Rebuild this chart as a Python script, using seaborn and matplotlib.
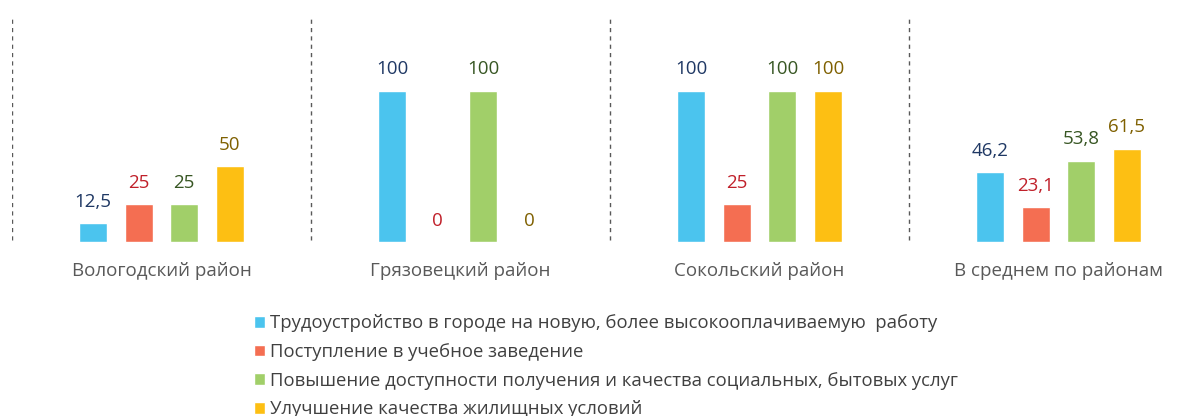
import pandas as pd
import matplotlib.pyplot as plt
import seaborn as sns

# Данные диаграммы
districts = ['Вологодский район', 'Грязовецкий район', 'Сокольский район', 'В среднем по районам']
reasons = [
    'Трудоустройство в городе на новую, более высокооплачиваемую  работу',
    'Поступление в учебное заведение',
    'Повышение доступности получения и качества социальных, бытовых услуг',
    'Улучшение качества жилищных условий',
]
job = [12.5, 100, 100, 46.2]
study = [25, 0, 25, 23.1]
services = [25, 100, 100, 53.8]
housing = [50, 0, 100, 61.5]

bar_colors = ['#4BC4EE', '#F46E52', '#A1CF69', '#FDBF13']
label_colors = ['#1F3864', '#C0202A', '#375623', '#7F6000']

data = pd.DataFrame({
    'район': districts * 4,
    'причина': [r for r in reasons for _ in districts],
    'значение': job + study + services + housing,
})

sns.set_style('white')
plt.rcParams['font.family'] = ['Open Sans', 'DejaVu Sans']

fig = plt.figure(figsize=(11.97, 4.16), dpi=100)
ax = fig.add_axes([12 / 1197, 0.418, 1185 / 1197, 0.546])

sns.barplot(data=data, x='район', y='значение', hue='причина', hue_order=reasons,
            palette=bar_colors, saturation=1, width=0.61, gap=0.38, ax=ax, legend=True)

ax.set_xlim(-0.5, 3.463)
ax.set_ylim(0, 150)

for c, col in zip(ax.containers, label_colors):
    labels = [f'{v:g}'.replace('.', ',') for v in c.datavalues]
    ax.bar_label(c, labels=labels, color=col, fontsize=13.5, padding=9)

for x in [-0.5, 0.5, 1.5, 2.5]:
    ax.axvline(x, ymin=0.01, color='#595959', linestyle=(0, (3, 3)), linewidth=1)

ax.set_xlabel('')
ax.set_ylabel('')
ax.set_yticks([])
ax.tick_params(axis='x', length=0, pad=14, labelsize=13.5, labelcolor='#595959')
sns.despine(ax=ax, left=True, bottom=True)

handles, labs = ax.get_legend_handles_labels()
ax.get_legend().remove()
fig.legend(handles, labs, loc='upper left', bbox_to_anchor=(245 / 1197, 1 - 305 / 416),
           frameon=False, fontsize=13.3, handlelength=0.6, handleheight=0.6,
           handletextpad=0.25, labelspacing=0.58, labelcolor='#404040', borderpad=0)

plt.savefig('out.png', dpi=100)
